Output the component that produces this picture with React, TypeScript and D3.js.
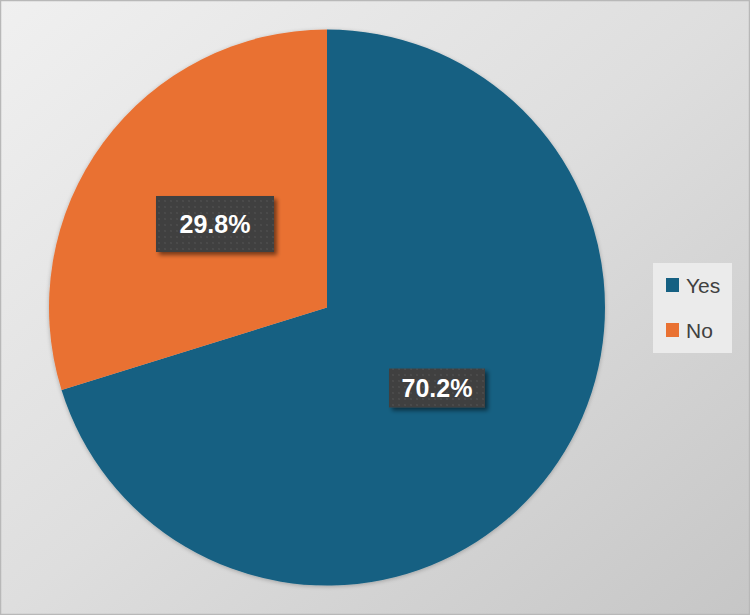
import React from "react";
import * as d3 from "d3";

const categories = ["Yes", "No"];
const values = [70.2, 29.8];
const labels = ["70.2%", "29.8%"];
const colors = ["#156082", "#E97132"];

const W = 750;
const H = 615;
const cx = 327;
const cy = 307.5;
const R = 278;

export default function App() {
  const pie = d3.pie<number>().sort(null).value((d) => d)(values);
  const arc = d3.arc<d3.PieArcDatum<number>>().innerRadius(0).outerRadius(R);
  const boxes = [
    { w: 96, h: 39 },
    { w: 118, h: 56 },
  ];
  const labelPos = [
    [437, 388],
    [215, 224],
  ];
  return (
    <svg width={W} height={H} style={{ position: "absolute", left: 0, top: 0, display: "block" }}>
      <defs>
        <linearGradient id="bg" x1="0" y1="0" x2="1" y2="1">
          <stop offset="0" stopColor="#f0f0f0" />
          <stop offset="0.5" stopColor="#dedede" />
          <stop offset="1" stopColor="#c6c6c6" />
        </linearGradient>
        <pattern id="dots" width="6" height="6" patternUnits="userSpaceOnUse">
          <rect width="6" height="6" fill="#3f3f3f" />
          <circle cx="3" cy="3" r="1.1" fill="#4d4d4d" />
        </pattern>
        <filter id="shadow" x="-20%" y="-20%" width="150%" height="150%">
          <feGaussianBlur in="SourceAlpha" stdDeviation="2" />
          <feOffset dx="3" dy="3" result="ob" />
          <feComponentTransfer>
            <feFuncA type="linear" slope="0.5" />
          </feComponentTransfer>
          <feMerge>
            <feMergeNode />
            <feMergeNode in="SourceGraphic" />
          </feMerge>
        </filter>
        <filter id="pieShadow" x="-10%" y="-10%" width="120%" height="120%">
          <feGaussianBlur in="SourceAlpha" stdDeviation="2" />
          <feOffset dx="0" dy="1" />
          <feComponentTransfer>
            <feFuncA type="linear" slope="0.25" />
          </feComponentTransfer>
          <feMerge>
            <feMergeNode />
            <feMergeNode in="SourceGraphic" />
          </feMerge>
        </filter>
      </defs>
      <rect x={0} y={0} width={W} height={H} fill="url(#bg)" />
      <rect x={0.5} y={0.5} width={W - 1} height={H - 1} fill="none" stroke="#b8b8b8" strokeWidth={1.5} />
      <g transform={`translate(${cx},${cy})`} filter="url(#pieShadow)">
        {pie.map((p, i) => (
          <path key={categories[i]} d={arc(p) || ""} fill={colors[i]} />
        ))}
      </g>
      {pie.map((p, i) => {
        const [lx, ly] = labelPos[i];
        const b = boxes[i];
        return (
          <g key={"lab" + i}>
            <rect
              x={lx - b.w / 2}
              y={ly - b.h / 2}
              width={b.w}
              height={b.h}
              fill="url(#dots)"
              filter="url(#shadow)"
            />
            <text
              x={lx}
              y={ly}
              textAnchor="middle"
              dominantBaseline="central"
              fill="#ffffff"
              fontFamily="'Liberation Sans', Arial, sans-serif"
              fontWeight="bold"
              fontSize={25}
            >
              {labels[i]}
            </text>
          </g>
        );
      })}
      <g>
        <rect x={653} y={263} width={79} height={90} fill="#ebebeb" />
        {categories.map((c, i) => (
          <g key={c} transform={`translate(666,${278 + i * 45})`}>
            <rect x={0} y={0} width={13} height={14} fill={colors[i]} />
            <text
              x={20}
              y={7}
              dominantBaseline="central"
              fill="#404040"
              fontFamily="'Liberation Sans', Arial, sans-serif"
              fontSize={21}
            >
              {c}
            </text>
          </g>
        ))}
      </g>
    </svg>
  );
}
